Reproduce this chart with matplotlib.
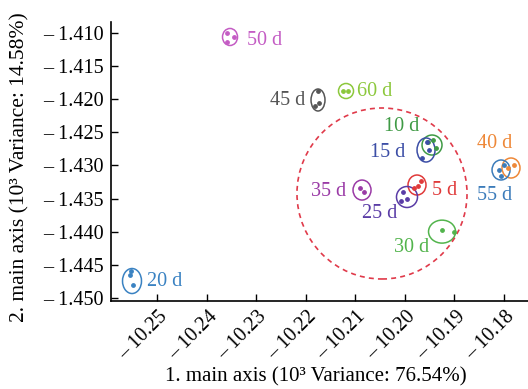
import matplotlib
matplotlib.use("Agg")
import matplotlib.pyplot as plt
from matplotlib.patches import Ellipse
from matplotlib.ticker import FuncFormatter
import matplotlib.transforms as mtransforms

plt.rcParams['font.family'] = ['Liberation Serif', 'DejaVu Serif']

# Storage-day groups
days = ["5 d", "10 d", "15 d", "20 d", "25 d", "30 d",
        "35 d", "40 d", "45 d", "50 d", "55 d", "60 d"]
colors = ["#e03a3a", "#3f9a45", "#3c4ea6", "#3a82c2", "#5a3ca6", "#52b44c",
          "#9a3aa6", "#ee8838", "#555555", "#c45cc4", "#3c7cba", "#8cc83c"]

# Replicate scores on the first two principal axes (10^3 units)
pts_x = [
    [-10.19815, -10.19674, -10.19735],
    [-10.19533, -10.19432, -10.19372],
    [-10.19553, -10.19654, -10.19513],
    [-10.25525, -10.25484, -10.25545],
    [-10.20037, -10.19957, -10.20078],
    [-10.19251, -10.19008],
    [-10.20905, -10.20824],
    [-10.17919, -10.17798],
    [-10.21752, -10.21813, -10.21732],
    [-10.23588, -10.23447, -10.23588],
    [-10.18101, -10.18060, -10.18000],
    [-10.21248, -10.21147],
]
pts_y = [
    [-1.43341, -1.43236, -1.43311],
    [-1.42647, -1.42616, -1.42737],
    [-1.42647, -1.42888, -1.42767],
    [-1.44595, -1.44807, -1.44656],
    [-1.43402, -1.43508, -1.43538],
    [-1.43976, -1.44006],
    [-1.43341, -1.43402],
    [-1.43039, -1.42994],
    [-1.41876, -1.42103, -1.42057],
    [-1.41000, -1.41060, -1.41136],
    [-1.43069, -1.43160, -1.42994],
    [-1.41876, -1.41876],
]

# Confidence ellipses: centre, width, height
ell_cx = [-10.19755, -10.19452, -10.19573, -10.25504, -10.19957, -10.19250,
          -10.20864, -10.17859, -10.21752, -10.23527, -10.18060, -10.21187]
ell_cy = [-1.43296, -1.42692, -1.42767, -1.44746, -1.43477, -1.44000,
          -1.43372, -1.43039, -1.42012, -1.41060, -1.43069, -1.41876]
ell_w = [0.00363, 0.00403, 0.00363, 0.00383, 0.00424, 0.00545,
         0.00363, 0.00363, 0.00282, 0.00303, 0.00363, 0.00303]
ell_h = [0.00302, 0.00302, 0.00363, 0.00378, 0.00317, 0.00347,
         0.00302, 0.00302, 0.00332, 0.00257, 0.00302, 0.00227]

# Label offsets (points) and alignment
lab_dx = [10.8, -22, -15, 10.8, -19.4, -21.6, -11.5, -11.5, -9.4, 12.2, -4.3, 8]
lab_dy = [-3.6, 13, -1.5, 0, -12.2, -11.5, -0.7, 18, 0, -2.2, -18.7, 0]
lab_ha = ["left", "center", "right", "left", "center", "center",
          "right", "center", "right", "left", "center", "left"]

# Cluster of early-storage samples
cluster_cx, cluster_cy = -10.20461, -1.43424
cluster_w, cluster_h = 0.03430, 0.02583

xticks = [-10.25, -10.24, -10.23, -10.22, -10.21, -10.20, -10.19, -10.18]
yticks = [-1.410, -1.415, -1.420, -1.425, -1.430, -1.435, -1.440, -1.445, -1.450]

fig = plt.figure(figsize=(5.28, 3.89), dpi=100)
ax = fig.add_axes([0.2102, 0.2262, 0.7898, 0.7172])

for i, d in enumerate(days):
    c = colors[i]
    ax.add_patch(Ellipse((ell_cx[i], ell_cy[i]), ell_w[i], ell_h[i],
                         fill=False, edgecolor=c, lw=1.1))
    ax.scatter(pts_x[i], pts_y[i], s=6, color=c, zorder=3)
    ax.annotate(d, (ell_cx[i], ell_cy[i]), xytext=(lab_dx[i], lab_dy[i]),
                textcoords="offset points", ha=lab_ha[i], va="center",
                color=c, fontsize=14.5)

ax.add_patch(Ellipse((cluster_cx, cluster_cy), cluster_w, cluster_h,
                     fill=False, edgecolor="#e03a4a", lw=1.2,
                     linestyle=(0, (3, 2.5))))

ax.set_xlim(-10.25928, -10.17516)
ax.set_ylim(-1.45048, -1.40834)
ax.set_xticks(xticks)
ax.set_yticks(yticks)
ax.xaxis.set_major_formatter(FuncFormatter(lambda v, p: "\u2013 %.2f" % abs(v)))
ax.yaxis.set_major_formatter(FuncFormatter(lambda v, p: "\u2013 %.3f" % abs(v)))
ax.tick_params(direction="in", length=5, width=1, labelsize=14.5, pad=5)
for s in ("top", "right"):
    ax.spines[s].set_visible(False)
for s in ("left", "bottom"):
    ax.spines[s].set_linewidth(1.2)

offset = mtransforms.ScaledTranslation(8 / 100, -6 / 100, fig.dpi_scale_trans)
for lab in ax.get_xticklabels():
    lab.set_rotation(45)
    lab.set_rotation_mode("anchor")
    lab.set_ha("right")
    lab.set_va("center")
    lab.set_transform(lab.get_transform() + offset)

ax.set_xlabel("1. main axis (10\u00b3 Variance: 76.54%)", fontsize=15)
ax.set_ylabel("2. main axis (10\u00b3 Variance: 14.58%)", fontsize=15.5)
ax.xaxis.set_label_coords(0.49, -0.236)
ax.yaxis.set_label_coords(-0.195, 0.48)

fig.savefig("out.png", dpi=100)
